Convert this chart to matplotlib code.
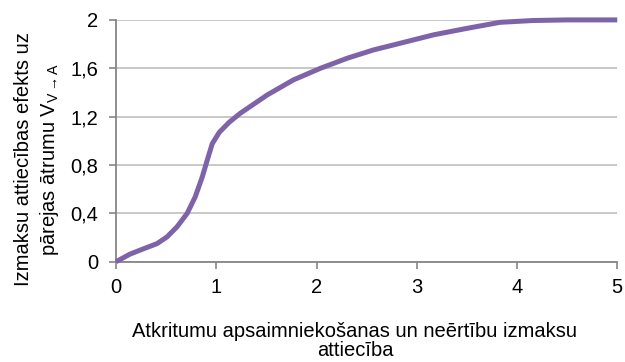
import matplotlib.pyplot as plt
import numpy as np

plt.rcParams['font.family'] = ['Liberation Sans', 'DejaVu Sans']
plt.rcParams['mathtext.fontset'] = 'custom'
plt.rcParams['mathtext.rm'] = 'Liberation Sans'
plt.rcParams['mathtext.it'] = 'Liberation Sans'

# cost ratio vs. effect on transition rate
ratio = [0, 0.14, 0.275, 0.41, 0.51, 0.61, 0.71, 0.79, 0.86, 0.91, 0.96, 1.03,
         1.13, 1.24, 1.51, 1.77, 2.04, 2.31, 2.57, 2.84, 3.17, 3.50, 3.83,
         4.16, 4.5, 5.0]
effect = [0, 0.063, 0.107, 0.15, 0.206, 0.29, 0.40, 0.536, 0.70, 0.84, 0.976,
          1.07, 1.154, 1.228, 1.38, 1.504, 1.60, 1.684, 1.752, 1.808, 1.877,
          1.93, 1.98, 1.995, 2.0, 2.0]

yticks = [0, 0.4, 0.8, 1.2, 1.6, 2]
ytick_labels = ['0', '0,4', '0,8', '1,2', '1,6', '2']
xticks = [0, 1, 2, 3, 4, 5]

fig = plt.figure(figsize=(6.25, 3.62), dpi=100)
ax = fig.add_axes([0.1856, 0.277, 0.802, 0.668])

ax.plot(ratio, effect, color='#7F63A8', lw=3.6, solid_joinstyle='round',
        solid_capstyle='butt', zorder=3, clip_on=False)

ax.set_xlim(0, 5)
ax.set_ylim(0, 2)
ax.set_xticks(xticks)
ax.set_yticks(yticks)
ax.set_yticklabels(ytick_labels)
ax.grid(axis='y', color='#BFBFBF', lw=1.2)
ax.set_axisbelow(True)

for s in ['top', 'right']:
    ax.spines[s].set_visible(False)
for s in ['left', 'bottom']:
    ax.spines[s].set_color('#868686')
    ax.spines[s].set_linewidth(1.3)
ax.tick_params(axis='both', colors='#868686', labelcolor='black', labelsize=14.5,
               length=5, width=1.2)
ax.tick_params(axis='x', pad=7)
ax.tick_params(axis='y', pad=8)

fig.text(0.568, 0.058, 'Atkritumu apsaimniekošanas un neērtību izmaksu\nattiecība',
         fontsize=14.5, ha='center', va='center', linespacing=1.0)
fig.text(0.06, 0.56,
         'Izmaksu attiecības efekts uz\npārejas ātrumu V$_{\\mathrm{V\\rightarrow A}}$',
         fontsize=14.5, rotation=90, ha='center', va='center',
         multialignment='center', linespacing=1.3)

fig.savefig('out.png', dpi=100)
